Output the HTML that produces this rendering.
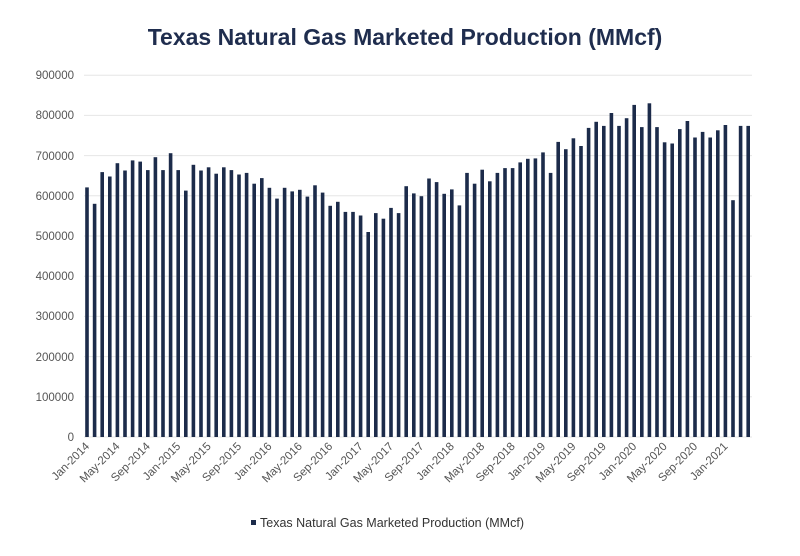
<!DOCTYPE html>
<html><head><meta charset="utf-8"><style>
html,body{margin:0;padding:0;background:#fff;}
svg{display:block;font-family:"Liberation Sans",sans-serif;}
</style></head><body>
<svg id="c" width="800" height="556" viewBox="0 0 800 556">
<text x="405" y="45" text-anchor="middle" font-size="23" font-weight="bold" fill="#1f2d4e">Texas Natural Gas Marketed Production (MMcf)</text>
<g stroke="#e6e6e6" stroke-width="1">
<line x1="84" x2="752" y1="75.2" y2="75.2"/><line x1="84" x2="752" y1="115.4" y2="115.4"/><line x1="84" x2="752" y1="155.6" y2="155.6"/><line x1="84" x2="752" y1="195.8" y2="195.8"/><line x1="84" x2="752" y1="236" y2="236"/><line x1="84" x2="752" y1="276.2" y2="276.2"/><line x1="84" x2="752" y1="316.4" y2="316.4"/><line x1="84" x2="752" y1="356.6" y2="356.6"/><line x1="84" x2="752" y1="396.8" y2="396.8"/><line x1="84" x2="752" y1="437" y2="437"/>
</g>
<g font-size="11.5" fill="#555" text-anchor="end">
<text x="74" y="79">900000</text><text x="74" y="119">800000</text><text x="74" y="160">700000</text><text x="74" y="200">600000</text><text x="74" y="240">500000</text><text x="74" y="280">400000</text><text x="74" y="320">300000</text><text x="74" y="361">200000</text><text x="74" y="401">100000</text><text x="74" y="441">0</text>
</g>
<g id="bars" fill="#1c2b4a"></g>
<g font-size="11.5" fill="#555" text-anchor="end">
<text transform="translate(90,447) rotate(-45)">Jan-2014</text>
<text transform="translate(120.4,447) rotate(-45)">May-2014</text>
<text transform="translate(150.8,447) rotate(-45)">Sep-2014</text>
<text transform="translate(181.2,447) rotate(-45)">Jan-2015</text>
<text transform="translate(211.6,447) rotate(-45)">May-2015</text>
<text transform="translate(242,447) rotate(-45)">Sep-2015</text>
<text transform="translate(272.4,447) rotate(-45)">Jan-2016</text>
<text transform="translate(302.8,447) rotate(-45)">May-2016</text>
<text transform="translate(333.2,447) rotate(-45)">Sep-2016</text>
<text transform="translate(363.6,447) rotate(-45)">Jan-2017</text>
<text transform="translate(394,447) rotate(-45)">May-2017</text>
<text transform="translate(424.4,447) rotate(-45)">Sep-2017</text>
<text transform="translate(454.8,447) rotate(-45)">Jan-2018</text>
<text transform="translate(485.2,447) rotate(-45)">May-2018</text>
<text transform="translate(515.6,447) rotate(-45)">Sep-2018</text>
<text transform="translate(546,447) rotate(-45)">Jan-2019</text>
<text transform="translate(576.4,447) rotate(-45)">May-2019</text>
<text transform="translate(606.8,447) rotate(-45)">Sep-2019</text>
<text transform="translate(637.2,447) rotate(-45)">Jan-2020</text>
<text transform="translate(667.6,447) rotate(-45)">May-2020</text>
<text transform="translate(698,447) rotate(-45)">Sep-2020</text>
<text transform="translate(728.4,447) rotate(-45)">Jan-2021</text>
</g>
<rect x="251" y="520" width="5" height="5" fill="#1c2b4a"/>
<text x="260" y="527" font-size="12.5" fill="#333">Texas Natural Gas Marketed Production (MMcf)</text>
</svg>
<script>
var v=[621,580,659,648,681,663,688,685,664,696,664,706,664,613,677,663,671,655,671,664,653,657,630,644,620,593,620,611,615,598,626,608,575,585,560,560,551,510,557,543,570,557,
624,606,599,643,634,605,616,576,657,630,665,636,657,669,669,683,692,693,708,657,734,716,743,724,769,784,774,806,774,793,826,771,830,771,733,730,766,786,745,759,745,763,776,589,774,774];
var g=document.getElementById('bars'),s='';
for(var i=0;i<v.length;i++){var x=87+7.6*i,h=v[i]*0.402;s+='<rect x="'+(x-1.8).toFixed(1)+'" y="'+(437-h).toFixed(1)+'" width="3.6" height="'+h.toFixed(1)+'"/>';}
g.innerHTML=s;
</script>
</body></html>
